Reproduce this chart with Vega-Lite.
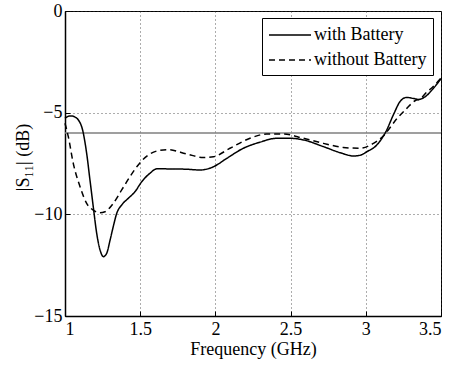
{
  "$schema": "https://vega.github.io/schema/vega-lite/v6.json",
  "width": 376,
  "height": 305,
  "autosize": {"type": "none"},
  "padding": {"left": 65, "top": 11, "right": 20, "bottom": 51},
  "background": "white",
  "config": {
    "font": "Times New Roman, Liberation Serif, serif",
    "view": {"stroke": "black", "strokeWidth": 1},
    "axis": {
      "labelFont": "Times New Roman, Liberation Serif, serif",
      "titleFont": "Times New Roman, Liberation Serif, serif",
      "labelFontSize": 18,
      "titleFontSize": 18,
      "labelColor": "black",
      "titleColor": "black",
      "titleFontWeight": "normal",
      "domainColor": "black",
      "domainWidth": 1.5,
      "tickColor": "black",
      "tickSize": -5,
      "grid": true,
      "gridColor": "#333333",
      "gridDash": [1, 3],
      "gridWidth": 1,
      "gridOpacity": 0.8
    }
  },
  "datasets": {
    "curves": [
      {"f": 1.0, "s": -5.28, "series": "with Battery"},
      {"f": 1.022, "s": -5.18, "series": "with Battery"},
      {"f": 1.044, "s": -5.16, "series": "with Battery"},
      {"f": 1.067, "s": -5.22, "series": "with Battery"},
      {"f": 1.089, "s": -5.36, "series": "with Battery"},
      {"f": 1.117, "s": -5.85, "series": "with Battery"},
      {"f": 1.144, "s": -7.0, "series": "with Battery"},
      {"f": 1.166, "s": -8.31, "series": "with Battery"},
      {"f": 1.188, "s": -9.63, "series": "with Battery"},
      {"f": 1.21, "s": -10.9, "series": "with Battery"},
      {"f": 1.233, "s": -11.75, "series": "with Battery"},
      {"f": 1.255, "s": -12.08, "series": "with Battery"},
      {"f": 1.277, "s": -11.92, "series": "with Battery"},
      {"f": 1.3, "s": -11.26, "series": "with Battery"},
      {"f": 1.321, "s": -10.6, "series": "with Battery"},
      {"f": 1.344, "s": -9.95, "series": "with Battery"},
      {"f": 1.377, "s": -9.54, "series": "with Battery"},
      {"f": 1.421, "s": -9.21, "series": "with Battery"},
      {"f": 1.465, "s": -8.89, "series": "with Battery"},
      {"f": 1.51, "s": -8.4, "series": "with Battery"},
      {"f": 1.565, "s": -7.98, "series": "with Battery"},
      {"f": 1.61, "s": -7.76, "series": "with Battery"},
      {"f": 1.72, "s": -7.77, "series": "with Battery"},
      {"f": 1.8, "s": -7.78, "series": "with Battery"},
      {"f": 1.9, "s": -7.82, "series": "with Battery"},
      {"f": 1.987, "s": -7.66, "series": "with Battery"},
      {"f": 2.075, "s": -7.25, "series": "with Battery"},
      {"f": 2.186, "s": -6.75, "series": "with Battery"},
      {"f": 2.297, "s": -6.45, "series": "with Battery"},
      {"f": 2.407, "s": -6.26, "series": "with Battery"},
      {"f": 2.496, "s": -6.26, "series": "with Battery"},
      {"f": 2.585, "s": -6.34, "series": "with Battery"},
      {"f": 2.718, "s": -6.67, "series": "with Battery"},
      {"f": 2.83, "s": -6.97, "series": "with Battery"},
      {"f": 2.918, "s": -7.13, "series": "with Battery"},
      {"f": 2.96, "s": -7.1, "series": "with Battery"},
      {"f": 3.007, "s": -6.92, "series": "with Battery"},
      {"f": 3.073, "s": -6.59, "series": "with Battery"},
      {"f": 3.133, "s": -5.94, "series": "with Battery"},
      {"f": 3.188, "s": -5.03, "series": "with Battery"},
      {"f": 3.227, "s": -4.46, "series": "with Battery"},
      {"f": 3.271, "s": -4.25, "series": "with Battery"},
      {"f": 3.316, "s": -4.3, "series": "with Battery"},
      {"f": 3.349, "s": -4.35, "series": "with Battery"},
      {"f": 3.394, "s": -4.22, "series": "with Battery"},
      {"f": 3.45, "s": -3.8, "series": "with Battery"},
      {"f": 3.5, "s": -3.33, "series": "with Battery"},
      {"f": 1.0, "s": -5.52, "series": "without Battery"},
      {"f": 1.022, "s": -6.18, "series": "without Battery"},
      {"f": 1.055, "s": -7.49, "series": "without Battery"},
      {"f": 1.1, "s": -8.64, "series": "without Battery"},
      {"f": 1.144, "s": -9.46, "series": "without Battery"},
      {"f": 1.188, "s": -9.79, "series": "without Battery"},
      {"f": 1.233, "s": -9.92, "series": "without Battery"},
      {"f": 1.266, "s": -9.87, "series": "without Battery"},
      {"f": 1.321, "s": -9.46, "series": "without Battery"},
      {"f": 1.377, "s": -8.8, "series": "without Battery"},
      {"f": 1.432, "s": -8.15, "series": "without Battery"},
      {"f": 1.487, "s": -7.57, "series": "without Battery"},
      {"f": 1.554, "s": -7.08, "series": "without Battery"},
      {"f": 1.62, "s": -6.87, "series": "without Battery"},
      {"f": 1.687, "s": -6.82, "series": "without Battery"},
      {"f": 1.809, "s": -7.03, "series": "without Battery"},
      {"f": 1.92, "s": -7.21, "series": "without Battery"},
      {"f": 1.987, "s": -7.17, "series": "without Battery"},
      {"f": 2.097, "s": -6.75, "series": "without Battery"},
      {"f": 2.23, "s": -6.26, "series": "without Battery"},
      {"f": 2.34, "s": -6.05, "series": "without Battery"},
      {"f": 2.45, "s": -6.05, "series": "without Battery"},
      {"f": 2.585, "s": -6.26, "series": "without Battery"},
      {"f": 2.718, "s": -6.51, "series": "without Battery"},
      {"f": 2.85, "s": -6.71, "series": "without Battery"},
      {"f": 2.96, "s": -6.75, "series": "without Battery"},
      {"f": 3.05, "s": -6.51, "series": "without Battery"},
      {"f": 3.116, "s": -6.15, "series": "without Battery"},
      {"f": 3.14, "s": -5.94, "series": "without Battery"},
      {"f": 3.206, "s": -5.3, "series": "without Battery"},
      {"f": 3.271, "s": -4.8, "series": "without Battery"},
      {"f": 3.33, "s": -4.4, "series": "without Battery"},
      {"f": 3.36, "s": -4.33, "series": "without Battery"},
      {"f": 3.404, "s": -4.0, "series": "without Battery"},
      {"f": 3.45, "s": -3.7, "series": "without Battery"},
      {"f": 3.5, "s": -3.3, "series": "without Battery"}
    ],
    "threshold": [{"level": -6}]
  },
  "layer": [
    {
      "data": {"name": "threshold"},
      "mark": {"type": "rule", "color": "#7f7f7f", "strokeWidth": 1.5},
      "encoding": {
        "y": {"field": "level", "type": "quantitative", "scale": {"domain": [-15, 0]}}
      }
    },
    {
      "data": {"name": "curves"},
      "mark": {"type": "line", "color": "black", "strokeWidth": 1.5, "interpolate": "monotone"},
      "encoding": {
        "x": {
          "field": "f", "type": "quantitative",
          "scale": {"domain": [1, 3.5], "nice": false, "zero": false},
          "axis": {"values": [1, 1.5, 2, 2.5, 3, 3.5], "title": "Frequency (GHz)", "labelPadding": 9, "titlePadding": 2, "format": "~g"}
        },
        "y": {
          "field": "s", "type": "quantitative",
          "scale": {"domain": [-15, 0], "nice": false},
          "axis": {"values": [-15, -10, -5, 0], "title": "|S₁₁| (dB)", "labelPadding": 8, "titlePadding": 1, "titleY": 146}
        },
        "strokeDash": {
          "field": "series", "type": "nominal",
          "scale": {"domain": ["with Battery", "without Battery"], "range": [[1, 0], [6, 4]]},
          "legend": {
            "title": null,
            "orient": "none",
            "legendX": 197,
            "legendY": 7,
            "fillColor": "white",
            "strokeColor": "black",
            "padding": 6,
            "labelFont": "Times New Roman, Liberation Serif, serif",
            "labelFontSize": 18,
            "labelColor": "black",
            "labelOffset": 2,
            "symbolType": "M-3.2,0H1",
            "symbolSize": 400,
            "symbolOffset": 22,
            "symbolStrokeColor": "black",
            "symbolStrokeWidth": 1.5,
            "rowPadding": 5
          }
        }
      }
    }
  ]
}
